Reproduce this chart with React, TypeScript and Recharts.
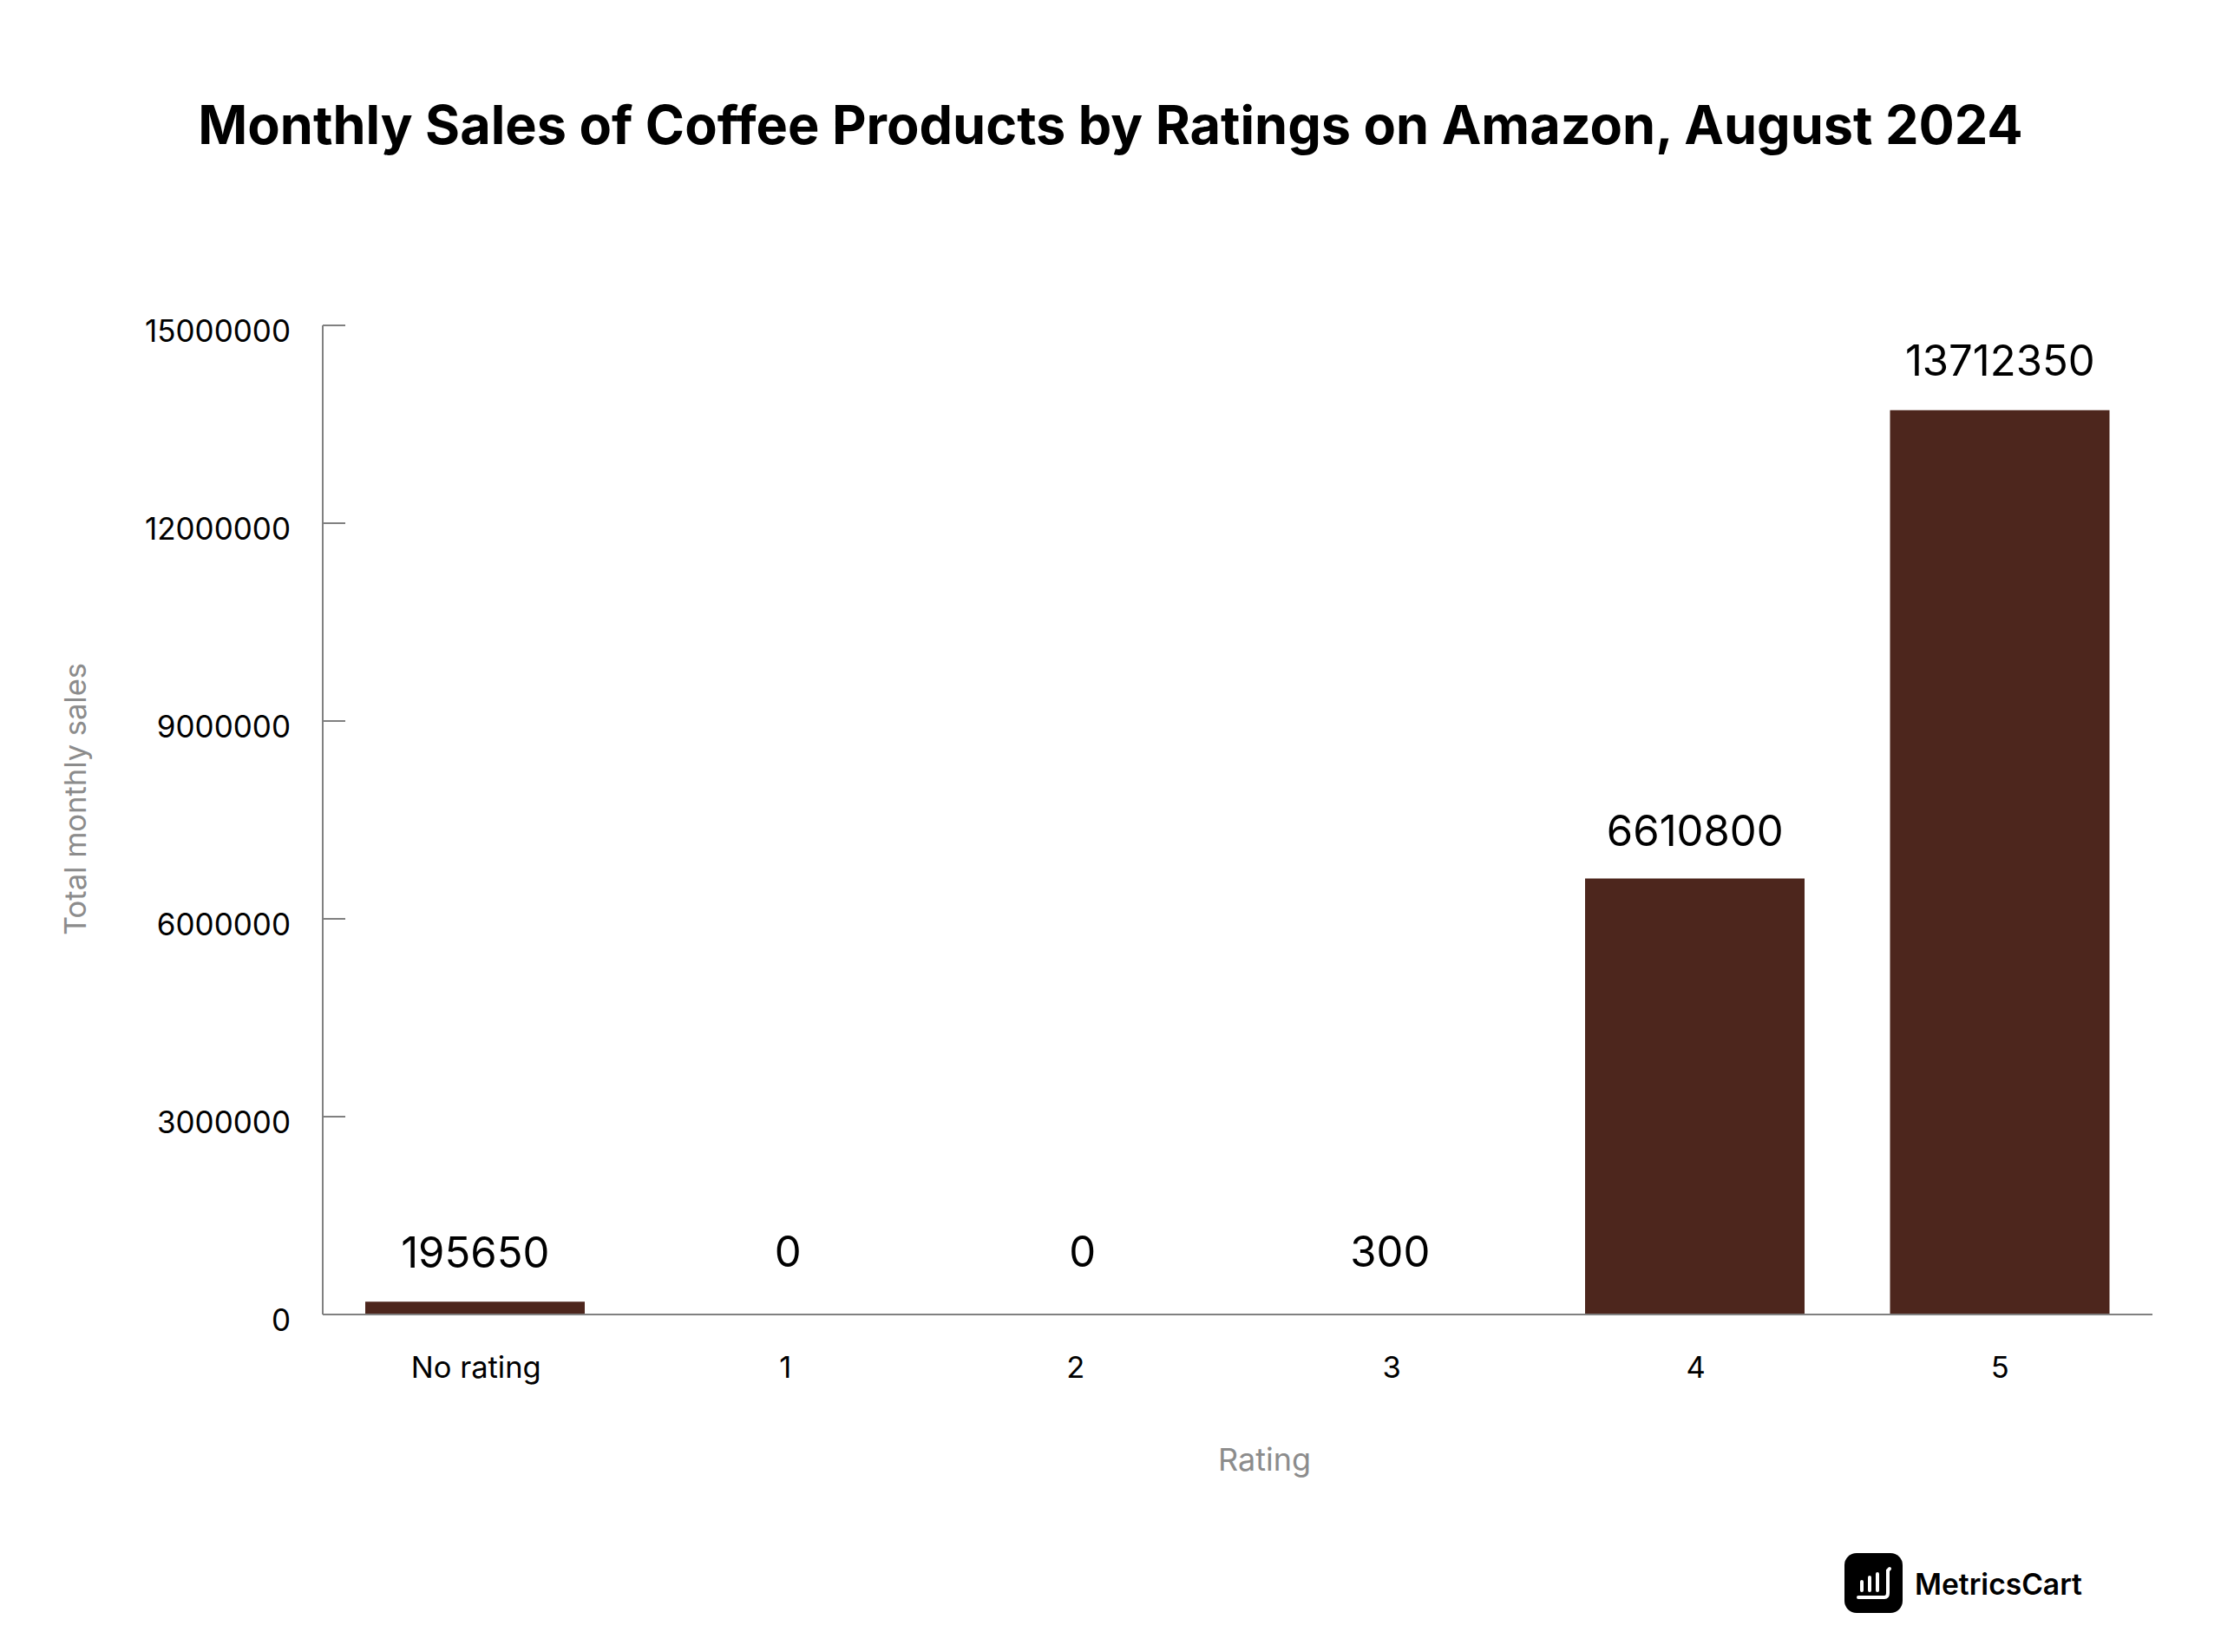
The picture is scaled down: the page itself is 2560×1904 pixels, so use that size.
import React from 'react';
import { ComposedChart, Bar, Line, XAxis, YAxis, Label } from 'recharts';

const categories = ['No rating', '1', '2', '3', '4', '5'];
const sales = [195650, 0, 0, 300, 6610800, 13712350];
const yTicks = [0, 3000000, 6000000, 9000000, 12000000, 15000000];

// the original labels were placed by hand, so they sit a bit off centre
const tickNudge = [1, 6, -11, 2, 1, 0];
const labelNudgeX = [0, 9, -3, 0, 0, 0];
const labelNudgeY = [0, -16, -16, -16, 1, -1];

const data = categories.map((rating, i) => ({ rating, sales: sales[i] }));

const FONT = 'Inter, sans-serif';

const XTick = ({ x, y, index, payload }: any) => (
  <text x={x + tickNudge[index]} y={y} dy={27} textAnchor="middle" fontFamily={FONT} fontSize={34.5} fill="#000">
    {payload.value}
  </text>
);

// zero height bars get no label from the Bar itself, so the labels hang on an invisible Line
const ValueLabel = ({ x, y, index, value }: any) => (
  <text
    x={x + labelNudgeX[index]}
    y={y + labelNudgeY[index] - 39}
    textAnchor="middle"
    fontFamily={FONT}
    fontSize={49}
    fill="#000"
  >
    {value}
  </text>
);

const Logo = () => (
  <svg width={68} height={70} viewBox="0 0 68 70" style={{ position: 'absolute', left: 2126, top: 1790 }}>
    <rect x={0} y={0} width={67} height={69} rx={14} fill="#000" />
    <g stroke="#fff" strokeWidth={4} strokeLinecap="round" fill="none">
      <path d="M20 33v10M29 28v15M38 24v19" />
      <path d="M16 51h30c3 0 4-2 4-5V20l2-2" />
    </g>
  </svg>
);

export default function App() {
  return (
    <div style={{ position: 'absolute', left: 0, top: 0, width: 2560, height: 1904, background: '#fff' }}>
      <div
        style={{
          position: 'absolute',
          left: 0,
          top: 106,
          width: 2560,
          textAlign: 'center',
          fontFamily: FONT,
          fontWeight: 700,
          fontSize: 61.2,
          lineHeight: '76px',
          color: '#000',
          whiteSpace: 'nowrap',
        }}
      >
        Monthly Sales of Coffee Products by Ratings on Amazon, August 2024
      </div>

      <ComposedChart
        width={2560}
        height={1904}
        data={data}
        margin={{ top: 375, right: 79, bottom: 289, left: 0 }}
        barCategoryGap={0}
      >
        <XAxis
          dataKey="rating"
          height={100}
          interval={0}
          tick={<XTick />}
          tickLine={false}
          tickMargin={40}
          axisLine={{ stroke: '#808080', strokeWidth: 2 }}
        >
          <Label value="Rating" position="insideBottom" offset={-80} dx={31} fontFamily={FONT} fontSize={36} fill="#8c8c8c" />
        </XAxis>
        <YAxis
          width={372}
          domain={[0, 15000000]}
          ticks={yTicks}
          interval={0}
          tickSize={-26}
          tickMargin={63}
          tick={{ fontFamily: FONT, fontSize: 35, fill: '#000', dy: 7 }}
          tickLine={{ stroke: '#808080', strokeWidth: 2 }}
          axisLine={{ stroke: '#808080', strokeWidth: 2 }}
        >
          <Label
            value="Total monthly sales"
            angle={-90}
            position="insideLeft"
            offset={87}
            dy={-24}
            fontFamily={FONT}
            fontSize={34.5}
            fill="#8c8c8c"
            style={{ textAnchor: 'middle' }}
          />
        </YAxis>
        <Bar dataKey="sales" fill="#4d261d" barSize={253} isAnimationActive={false} />
        <Line dataKey="sales" stroke="none" dot={false} activeDot={false} label={<ValueLabel />} isAnimationActive={false} />
      </ComposedChart>

      <Logo />
      <div
        style={{
          position: 'absolute',
          left: 2207,
          top: 1805,
          fontFamily: FONT,
          fontWeight: 600,
          fontSize: 33.6,
          lineHeight: '42px',
          color: '#000',
        }}
      >
        MetricsCart
      </div>
    </div>
  );
}
